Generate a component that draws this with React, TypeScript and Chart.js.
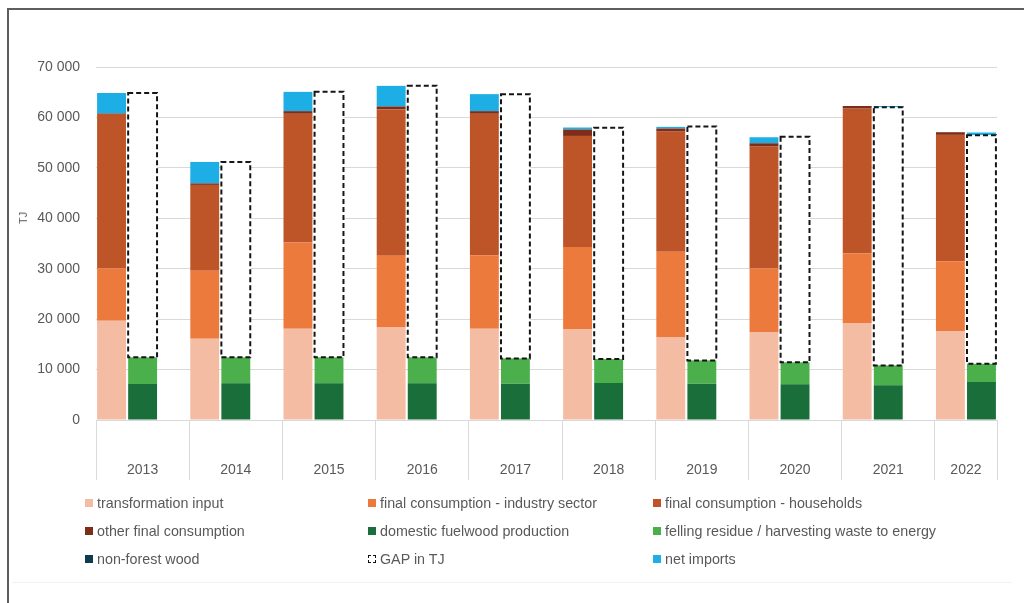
import React, { useEffect, useRef } from 'react';
import { Chart, registerables } from 'chart.js';

Chart.register(...registerables);

// ---- data (TJ) ----
const years = ['2013', '2014', '2015', '2016', '2017', '2018', '2019', '2020', '2021', '2022'];
const transformationInput = [19670, 16110, 18090, 18360, 18090, 18030, 16380, 17430, 19220, 17560];
const industrySector = [10380, 13470, 17110, 14190, 14600, 16300, 16960, 12620, 13790, 13940];
const households = [30610, 17040, 25520, 29030, 28030, 22000, 23850, 24170, 28730, 25040];
const otherFinal = [100, 300, 530, 600, 530, 1270, 610, 660, 530, 530];
const domesticFuelwood = [7130, 7270, 7270, 7270, 7200, 7330, 7200, 7070, 6870, 7530];
const fellingResidue = [5290, 5150, 5150, 5150, 5020, 4750, 4620, 4360, 3960, 3620];
const nonForestWood = [0, 0, 0, 0, 0, 0, 0, 0, 0, 0];
const gapTJ = [52420, 38720, 52650, 53880, 52360, 45870, 46380, 44720, 51170, 45320];
const netImports = [4080, 4250, 3820, 4080, 3370, 400, 330, 1190, -270, -540];
const yTicks = [0, 10000, 20000, 30000, 40000, 50000, 60000, 70000];

// ---- slot structure: consumption bar, supply bar, spacer (no spacer after last year) ----
type Slot = { year: number; kind: 'use' | 'supply' | 'gap' };
const slots: Slot[] = [];
years.forEach((_, i) => {
  slots.push({ year: i, kind: 'use' });
  slots.push({ year: i, kind: 'supply' });
  if (i < years.length - 1) slots.push({ year: i, kind: 'gap' });
});
const groupStart: number[] = [];
const groupEnd: number[] = [];
slots.forEach((s, k) => {
  if (groupStart[s.year] === undefined) groupStart[s.year] = k;
  groupEnd[s.year] = k + 1;
});

const onUse = (arr: number[]) => slots.map((s) => (s.kind === 'use' ? arr[s.year] : null));
const onSupply = (arr: number[]) => slots.map((s) => (s.kind === 'supply' ? arr[s.year] : null));
const netImportsSlots = slots.map((s) => {
  const v = netImports[s.year];
  if (s.kind === 'use' && v >= 0) return v;
  if (s.kind === 'supply' && v < 0) return -v;
  return null;
});

const C = {
  trans: '#F4BCA2',
  industry: '#EC7A3C',
  households: '#BE5528',
  other: '#7E2E18',
  fuelwood: '#1A6E39',
  felling: '#4BAF4B',
  nonForest: '#0E3B4E',
  gap: '#FFFFFF',
  imports: '#1CAEE4',
};

const datasets = [
  { label: 'transformation input', data: onUse(transformationInput), backgroundColor: C.trans },
  { label: 'final consumption - industry sector', data: onUse(industrySector), backgroundColor: C.industry },
  { label: 'final consumption - households', data: onUse(households), backgroundColor: C.households },
  { label: 'other final consumption', data: onUse(otherFinal), backgroundColor: C.other },
  { label: 'domestic fuelwood production', data: onSupply(domesticFuelwood), backgroundColor: C.fuelwood },
  { label: 'felling residue / harvesting waste to energy', data: onSupply(fellingResidue), backgroundColor: C.felling },
  { label: 'non-forest wood', data: onSupply(nonForestWood), backgroundColor: C.nonForest },
  { label: 'GAP in TJ', data: onSupply(gapTJ), backgroundColor: C.gap },
  { label: 'net imports', data: netImportsSlots, backgroundColor: C.imports },
];

const fmt = (v: number) => String(v).replace(/\B(?=(\d{3})+(?!\d))/g, ' ');

const yearTickValues: number[] = [];
const boundaryValues: number[] = [];
years.forEach((_, i) => {
  yearTickValues.push((groupStart[i] + groupEnd[i]) / 2);
  boundaryValues.push(groupStart[i]);
});
boundaryValues.push(slots.length);

const gapOutline = {
  id: 'gapOutline',
  afterDatasetsDraw(chart: any) {
    const idx = chart.data.datasets.findIndex((d: any) => d.label === 'GAP in TJ');
    if (idx < 0) return;
    const meta = chart.getDatasetMeta(idx);
    const data = chart.data.datasets[idx].data;
    const ctx = chart.ctx;
    ctx.save();
    ctx.setLineDash([5, 3]);
    ctx.lineWidth = 2;
    ctx.strokeStyle = '#151515';
    meta.data.forEach((el: any, i: number) => {
      if (data[i] == null) return;
      const { x, y, base, width } = el.getProps(['x', 'y', 'base', 'width'], true);
      ctx.strokeRect(x - width / 2, y, width, base - y);
    });
    ctx.restore();
  },
};

const FONT = '"Liberation Sans", Arial, sans-serif';
const TEXT = '#595959';

function ChartCanvas() {
  const ref = useRef<HTMLCanvasElement | null>(null);
  useEffect(() => {
    if (!ref.current) return;
    const chart = new Chart(ref.current, {
      type: 'bar',
      data: { labels: slots.map((_, k) => String(k)), datasets: datasets as any },
      plugins: [gapOutline],
      options: {
        animation: false,
        responsive: true,
        maintainAspectRatio: false,
        layout: { padding: { left: 10, right: 27, top: 67, bottom: 113 } },
        datasets: { bar: { barPercentage: 0.93, categoryPercentage: 1, borderWidth: 0 } },
        plugins: { legend: { display: false }, tooltip: { enabled: false }, title: { display: false } },
        scales: {
          x: { type: 'category', stacked: true, display: false, offset: true },
          x2: {
            type: 'linear',
            position: 'bottom',
            min: 0,
            max: slots.length,
            offset: false,
            afterBuildTicks: (s: any) => {
              s.ticks = [...boundaryValues, ...yearTickValues]
                .sort((a, b) => a - b)
                .map((v) => ({ value: v }));
            },
            afterFit: (s: any) => {
              s.height = 70;
            },
            border: { display: false },
            grid: {
              offset: false,
              drawOnChartArea: false,
              drawTicks: true,
              tickLength: 60,
              lineWidth: 1,
              color: (ctx: any) =>
                ctx.tick && boundaryValues.includes(ctx.tick.value) ? '#D9D9D9' : 'rgba(0,0,0,0)',
            },
            ticks: {
              autoSkip: false,
              maxRotation: 0,
              minRotation: 0,
              padding: -18,
              color: TEXT,
              font: { family: FONT, size: 14 },
              callback: (v: any) => {
                const i = yearTickValues.indexOf(Number(v));
                return i >= 0 ? years[i] : '';
              },
            },
          },
          y: {
            stacked: true,
            min: 0,
            max: 70000,
            afterFit: (s: any) => {
              s.width = 86;
            },
            afterBuildTicks: (s: any) => {
              s.ticks = yTicks.map((v) => ({ value: v }));
            },
            border: { display: false },
            grid: { color: '#D9D9D9', lineWidth: 1, drawTicks: false },
            ticks: {
              padding: 16,
              color: TEXT,
              font: { family: FONT, size: 14 },
              callback: (v: any) => fmt(Number(v)),
            },
          },
        },
      },
    });
    return () => chart.destroy();
  }, []);
  return <canvas ref={ref} />;
}

const legendCols = [85, 368, 653];
const legendRows = [503, 531, 559];

export default function App() {
  return (
    <div>
      <div
        style={{
          position: 'absolute',
          left: 7,
          top: 8,
          width: 1017,
          height: 595,
          borderTop: '2px solid #5E5E5E',
          borderLeft: '2px solid #5E5E5E',
          boxSizing: 'border-box',
        }}
      />
      <div style={{ position: 'absolute', left: 12, top: 582, width: 1000, height: 1, background: '#F2F2F2' }} />
      <div style={{ position: 'absolute', left: 0, top: 0, width: 1024, height: 603 }}>
        <ChartCanvas />
      </div>
      <div
        style={{
          position: 'absolute',
          left: 23,
          top: 218,
          transform: 'translate(-50%, -50%) rotate(-90deg)',
          fontFamily: FONT,
          fontSize: 11,
          color: TEXT,
          whiteSpace: 'nowrap',
        }}
      >
        TJ
      </div>
      {datasets.map((d, i) => {
        const col = i % 3;
        const row = Math.floor(i / 3);
        const isGap = d.label === 'GAP in TJ';
        return (
          <div
            key={d.label}
            style={{
              position: 'absolute',
              left: legendCols[col],
              top: legendRows[row] - 9,
              height: 18,
              display: 'flex',
              alignItems: 'center',
              fontFamily: FONT,
              fontSize: 14.3,
              color: TEXT,
              whiteSpace: 'nowrap',
            }}
          >
            <span
              style={{
                display: 'inline-block',
                width: isGap ? 6 : 8,
                height: isGap ? 6 : 8,
                marginRight: 4,
                background: isGap ? '#fff' : (d.backgroundColor as string),
                border: isGap ? '1.5px dashed #111' : 'none',
              }}
            />
            {d.label}
          </div>
        );
      })}
    </div>
  );
}
